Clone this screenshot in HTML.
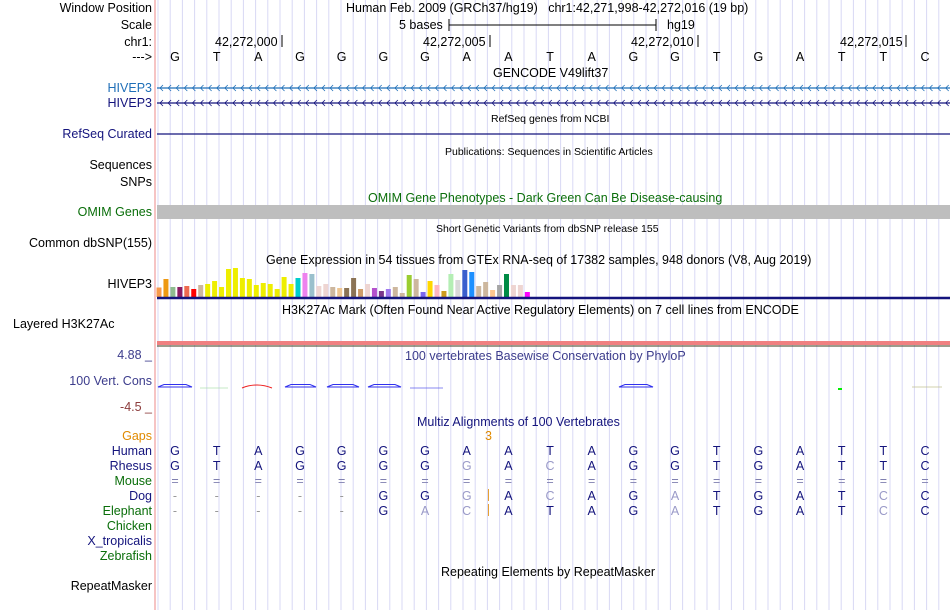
<!DOCTYPE html>
<html><head><meta charset="utf-8"><style>
body{margin:0;background:#fff;}
#root{position:relative;width:950px;height:610px;overflow:hidden;font-family:"Liberation Sans",sans-serif;font-size:12.5px;color:#000;}
.t{position:absolute;white-space:nowrap;line-height:14px;}
.l{position:absolute;right:798px;white-space:nowrap;line-height:14px;text-align:right;}
.s{font-size:10.5px;}
</style></head><body>
<div id="root">
<svg id="svg" width="950" height="610" style="position:absolute;left:0;top:0"></svg>

<div class="l" style="top:1px">Window Position</div>
<div class="l" style="top:18px">Scale</div>
<div class="l" style="top:35px">chr1:</div>
<div class="l" style="top:50px">---&gt;</div>
<div class="l" style="top:81px;color:#1f6fb8">HIVEP3</div>
<div class="l" style="top:96px;color:#14147d">HIVEP3</div>
<div class="l" style="top:127px;color:#14147d">RefSeq Curated</div>
<div class="l" style="top:158px">Sequences</div>
<div class="l" style="top:175px">SNPs</div>
<div class="l" style="top:205px;color:#0a6e0a">OMIM Genes</div>
<div class="l" style="top:236px">Common dbSNP(155)</div>
<div class="l" style="top:277px">HIVEP3</div>
<div class="t" style="top:317px;left:13px">Layered H3K27Ac</div>
<div class="l" style="top:348px;color:#3c3c8c">4.88 _</div>
<div class="l" style="top:374px;color:#3c3c8c">100 Vert. Cons</div>
<div class="l" style="top:400px;color:#8c3c3c">-4.5 _</div>
<div class="l" style="top:429px;color:#e08a00">Gaps</div>
<div class="l" style="top:444px;color:#14147d">Human</div>
<div class="l" style="top:459px;color:#14147d">Rhesus</div>
<div class="l" style="top:474px;color:#0a6e0a">Mouse</div>
<div class="l" style="top:489px;color:#14147d">Dog</div>
<div class="l" style="top:504px;color:#0a6e0a">Elephant</div>
<div class="l" style="top:519px;color:#0a6e0a">Chicken</div>
<div class="l" style="top:534px;color:#14147d">X_tropicalis</div>
<div class="l" style="top:549px;color:#0a6e0a">Zebrafish</div>
<div class="l" style="top:579px">RepeatMasker</div>

<div class="t" style="top:1px;left:346px">Human Feb. 2009 (GRCh37/hg19)&nbsp;&nbsp;&nbsp;chr1:42,271,998-42,272,016 (19 bp)</div>
<div class="t" style="top:18px;left:399px">5 bases</div>
<div class="t" style="top:18px;left:667px">hg19</div>
<div class="t" style="top:35px;left:215px">42,272,000</div>
<div class="t" style="top:35px;left:423px">42,272,005</div>
<div class="t" style="top:35px;left:631px">42,272,010</div>
<div class="t" style="top:35px;left:840px">42,272,015</div>
<div class="t" style="top:66px;left:493px">GENCODE V49lift37</div>
<div class="t s" style="top:112px;left:491px">RefSeq genes from NCBI</div>
<div class="t s" style="top:145px;left:445px">Publications: Sequences in Scientific Articles</div>
<div class="t" style="top:191px;left:368px;color:#0a6e0a">OMIM Gene Phenotypes - Dark Green Can Be Disease-causing</div>
<div class="t s" style="top:222px;left:436px">Short Genetic Variants from dbSNP release 155</div>
<div class="t" style="top:253px;left:266px">Gene Expression in 54 tissues from GTEx RNA-seq of 17382 samples, 948 donors (V8, Aug 2019)</div>
<div class="t" style="top:303px;left:282px">H3K27Ac Mark (Often Found Near Active Regulatory Elements) on 7 cell lines from ENCODE</div>
<div class="t" style="top:349px;left:405px;color:#3c3c8c">100 vertebrates Basewise Conservation by PhyloP</div>
<div class="t" style="top:415px;left:417px;color:#14147d">Multiz Alignments of 100 Vertebrates</div>
<div class="t" style="top:429px;left:485px;color:#e08a00">3</div>
<div class="t" style="top:565px;left:441px">Repeating Elements by RepeatMasker</div>
</div>
<script>
const NS='http://www.w3.org/2000/svg';
const svg=document.getElementById('svg');
const root=document.getElementById('root');
function mk(tag,a){const e=document.createElementNS(NS,tag);for(const k in a)e.setAttribute(k,a[k]);svg.appendChild(e);return e;}
for(let x=158;x<950;x+=12.2){const g=mk('line',{x1:x,x2:x,y1:0,y2:610,stroke:'#d8d8f4','stroke-width':1});

}
mk('line',{x1:155,x2:155,y1:0,y2:610,stroke:'#f4b0b0','stroke-width':1.5});
mk('line',{x1:449,x2:656,y1:25,y2:25,stroke:'#000'});
mk('line',{x1:449,x2:449,y1:19,y2:31,stroke:'#000'});
mk('line',{x1:656,x2:656,y1:19,y2:31,stroke:'#000'});
[282,490,698,906].forEach(x=>mk('line',{x1:x,x2:x,y1:35,y2:47,stroke:'#000'}));
const human="GTAGGGGAATAGGTGATTC".split('');
const rhesus="GTAGGGGGACAGGTGATTC".split('');
const rhesusGray=[0,0,0,0,0,0,0,1,0,1,0,0,0,0,0,0,0,0,0];
const dog="-----GGGACAGATGATCC".split('');
const dogGray=[0,0,0,0,0,0,0,1,0,1,0,0,1,0,0,0,0,1,0];
const eleph="-----GACATAGATGATCC".split('');
const elephGray=[0,0,0,0,0,0,1,1,0,0,0,0,1,0,0,0,0,1,0];
function bx(i){return 175+i*41.67;}
function txt(x,y,s,col,name){const d=document.createElement('div');d.className='t';d.style.left=(x-5)+'px';d.style.top=y+'px';d.style.width='10px';d.style.textAlign='center';d.style.color=col;d.textContent=s;

root.appendChild(d);}
human.forEach((b,i)=>{txt(bx(i),50,b,'#000','ref-base');txt(bx(i),444,b,'#14147d','human-base');
txt(bx(i),459,rhesus[i],rhesusGray[i]?'#9a9ac8':'#14147d','rhesus-base');
txt(bx(i),474,'=','#8080b0','mouse-base');
txt(bx(i),489,dog[i],dog[i]=='-'?'#999':(dogGray[i]?'#9a9ac8':'#14147d'),'dog-base');
txt(bx(i),504,eleph[i],eleph[i]=='-'?'#999':(elephGray[i]?'#9a9ac8':'#14147d'),'elephant-base');});
mk('line',{x1:488.5,x2:488.5,y1:489,y2:501,stroke:'#e08a00','stroke-width':0.8});
mk('line',{x1:488.5,x2:488.5,y1:504,y2:516,stroke:'#e08a00','stroke-width':0.8});
function gene(y,col){mk('line',{x1:157,x2:950,y1:y,y2:y,stroke:col,'stroke-width':1.2});
let d='';for(let x=160;x<948;x+=8.1)d+=`M${x+3},${y-3}L${x},${y}L${x+3},${y+3}`;mk('path',{d:d,stroke:col,fill:'none','stroke-width':0.8});}
gene(88,'#1f6fb8');gene(103,'#14147d');
mk('line',{x1:157,x2:950,y1:134,y2:134,stroke:'#14147d','stroke-width':1.2});
mk('rect',{x:157,y:205,width:793,height:14,fill:'#bebebe'});
const gtexValues=[9.5,18,10,10,11,8,12,13,16,10,28,29,19,18,12,14,13,8,20,13,19,24,23,11,13,10,9,9,19,8,13,9,6,8,10,4,22,18,5,16,12,6,23,17,27,25,11,15,7,12,23,12,12,5];
const gtexColors=['#f89a4a','#ee9911','#8fbc8f','#8b1c62','#ee6a50','#ff0000','#cdb79e','#eeee00','#eeee00','#eeee00','#eeee00','#eeee00','#eeee00','#eeee00','#eeee00','#eeee00','#eeee00','#eeee00','#eeee00','#eeee00','#00cdcd','#ee82ee','#9ac0cd','#eed5d2','#eed5d2','#cdb79e','#eec591','#8b7355','#8b7355','#cd9b69','#eed5d2','#b452cd','#7a378b','#9f79ee','#cdb79e','#cdb79e','#9acd32','#cdb79e','#7b68ee','#ffd700','#ffb6c1','#cd9b1d','#b4eeb4','#d9d9d9','#3a5fcd','#1e90ff','#cdb79e','#cdb79e','#ffc78f','#a6a6a6','#008b45','#eed5d2','#eed5d2','#ff00ff'];
const base=297;
gtexValues.forEach((v,i)=>{const r=mk('rect',{x:156.5+i*6.95,y:base-v,width:5,height:v,fill:gtexColors[i]});

});
mk('line',{x1:157,x2:950,y1:298,y2:298,stroke:'#14147d','stroke-width':2.5});
mk('rect',{x:157,y:341,width:793,height:4,fill:'#f08080'});
mk('line',{x1:157,x2:950,y1:346,y2:346,stroke:'#3a3a1a','stroke-width':1});
function blob(x1,x2,y,col){mk('path',{d:`M${x1},${y+1}L${x1+6},${y-1.5}L${x2-6},${y-1.5}L${x2},${y+1}Z`,fill:'none',stroke:col,'stroke-width':1});}
[[158,192,'#3030ee'],[285,316,'#3030ee'],[327,359,'#3030ee'],[368,401,'#3030ee'],[619,653,'#3030ee']].forEach(a=>blob(a[0],a[1],386,a[2]));
mk('path',{d:'M242,388Q257,382 272,388',fill:'none',stroke:'#ee2020','stroke-width':1});
mk('line',{x1:410,x2:443,y1:388,y2:388,stroke:'#6060ee','stroke-width':0.8});
mk('line',{x1:200,x2:228,y1:388,y2:388,stroke:'#b0e0b0','stroke-width':0.8});
mk('rect',{x:838,y:388,width:4,height:2,fill:'#00ee00'});
mk('line',{x1:912,x2:942,y1:387,y2:387,stroke:'#c0c090','stroke-width':0.8});
</script>
</body></html>
